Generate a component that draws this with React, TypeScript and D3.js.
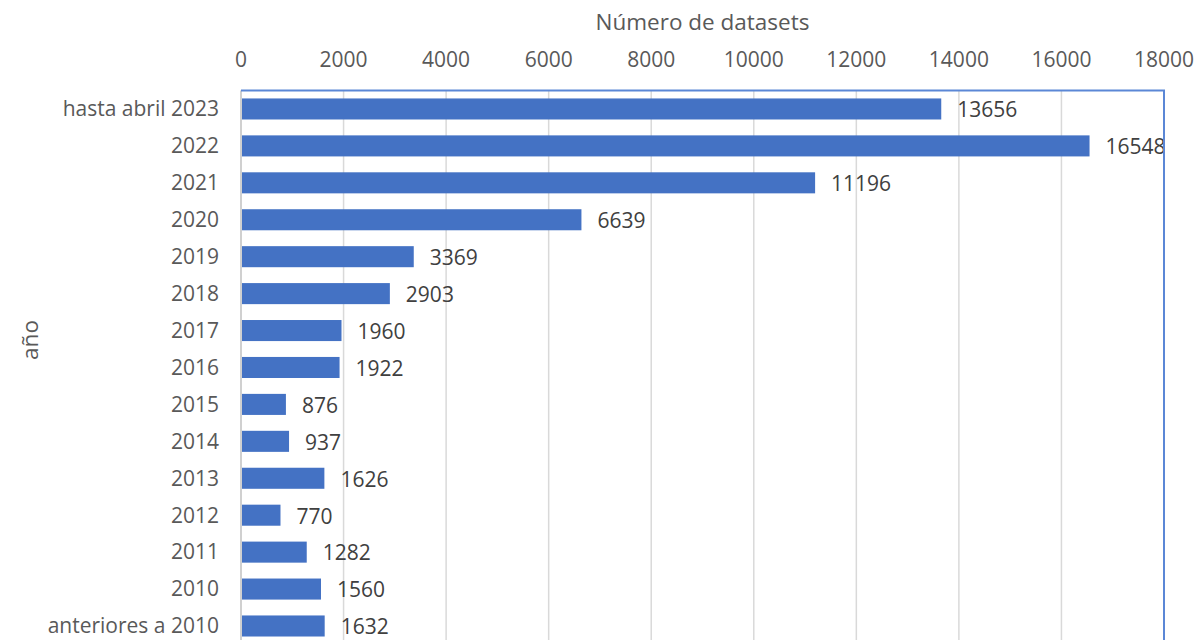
import React, { useRef, useEffect } from 'react';
import * as d3 from 'd3';

const categories: string[] = [
  'hasta abril 2023', '2022', '2021', '2020', '2019', '2018', '2017', '2016',
  '2015', '2014', '2013', '2012', '2011', '2010', 'anteriores a 2010',
];
const datasetCounts: number[] = [
  13656, 16548, 11196, 6639, 3369, 2903, 1960, 1922,
  876, 937, 1626, 770, 1282, 1560, 1632,
];
const xTicks: number[] = [0, 2000, 4000, 6000, 8000, 10000, 12000, 14000, 16000, 18000];

const App = () => {
  const svgRef = useRef<SVGSVGElement>(null);

  useEffect(() => {
    if (!svgRef.current) return;
    const root = d3.select(svgRef.current);
    root.selectAll('*').remove();

    const width = 1198;
    const height = 640;
    const left = 241;
    const right = 1164;
    const top = 90.5;
    const step = 36.93;
    const bottom = top + step * categories.length;
    const font = '"Open Sans", sans-serif';
    const textColor = '#595959';

    root.attr('width', width).attr('height', height);

    const x = d3.scaleLinear().domain([0, 18000]).range([left, right]);
    const y = d3.scaleBand<string>()
      .domain(categories)
      .range([top, bottom])
      .paddingInner(0.43)
      .paddingOuter(0.215);

    // gridlines
    root.append('g')
      .selectAll('line')
      .data(xTicks.slice(1, -1))
      .enter()
      .append('line')
      .attr('x1', d => x(d))
      .attr('x2', d => x(d))
      .attr('y1', top)
      .attr('y2', bottom)
      .attr('stroke', '#d9d9d9')
      .attr('stroke-width', 1.5);

    // bars
    const data = categories.map((c, i) => ({ name: c, value: datasetCounts[i] }));
    root.append('g')
      .selectAll('rect')
      .data(data)
      .enter()
      .append('rect')
      .attr('x', x(0) + 1)
      .attr('y', d => y(d.name)!)
      .attr('width', d => x(d.value) - x(0) - 1)
      .attr('height', y.bandwidth())
      .attr('fill', '#4472c4');

    // value labels
    root.append('g')
      .selectAll('text')
      .data(data)
      .enter()
      .append('text')
      .attr('x', d => x(d.value) + 16)
      .attr('y', d => y(d.name)! + y.bandwidth() / 2 + 1)
      .attr('dy', '0.35em')
      .attr('font-family', font)
      .attr('font-size', 21)
      .attr('fill', '#404040')
      .text(d => d.value);

    // left axis line
    root.append('line')
      .attr('x1', left).attr('x2', left)
      .attr('y1', top).attr('y2', bottom)
      .attr('stroke', '#d0d0d0')
      .attr('stroke-width', 2);

    // plot border top/right
    root.append('path')
      .attr('d', `M${left},${top}H${right}V${bottom}`)
      .attr('fill', 'none')
      .attr('stroke', '#5b87d6')
      .attr('stroke-width', 2);

    // x tick labels
    root.append('g')
      .selectAll('text')
      .data(xTicks)
      .enter()
      .append('text')
      .attr('x', d => x(d))
      .attr('y', 60)
      .attr('dy', '0.35em')
      .attr('text-anchor', 'middle')
      .attr('font-family', font)
      .attr('font-size', 21)
      .attr('fill', textColor)
      .text(d => d);

    // category labels
    root.append('g')
      .selectAll('text')
      .data(categories)
      .enter()
      .append('text')
      .attr('x', 219)
      .attr('y', d => y(d)! + y.bandwidth() / 2)
      .attr('dy', '0.35em')
      .attr('text-anchor', 'end')
      .attr('font-family', font)
      .attr('font-size', 21)
      .attr('fill', textColor)
      .text(d => d);

    // axis titles
    root.append('text')
      .attr('x', (left + right) / 2)
      .attr('y', 22)
      .attr('dy', '0.35em')
      .attr('text-anchor', 'middle')
      .attr('font-family', font)
      .attr('font-size', 22.5)
      .attr('fill', textColor)
      .text('Número de datasets');

    root.append('text')
      .attr('transform', 'translate(30, 340) rotate(-90)')
      .attr('dy', '0.35em')
      .attr('text-anchor', 'middle')
      .attr('font-family', font)
      .attr('font-size', 22.5)
      .attr('fill', textColor)
      .text('año');
  }, []);

  return (
    <svg ref={svgRef} style={{ position: 'absolute', left: 0, top: 0, display: 'block' }}></svg>
  );
};

export default App;
